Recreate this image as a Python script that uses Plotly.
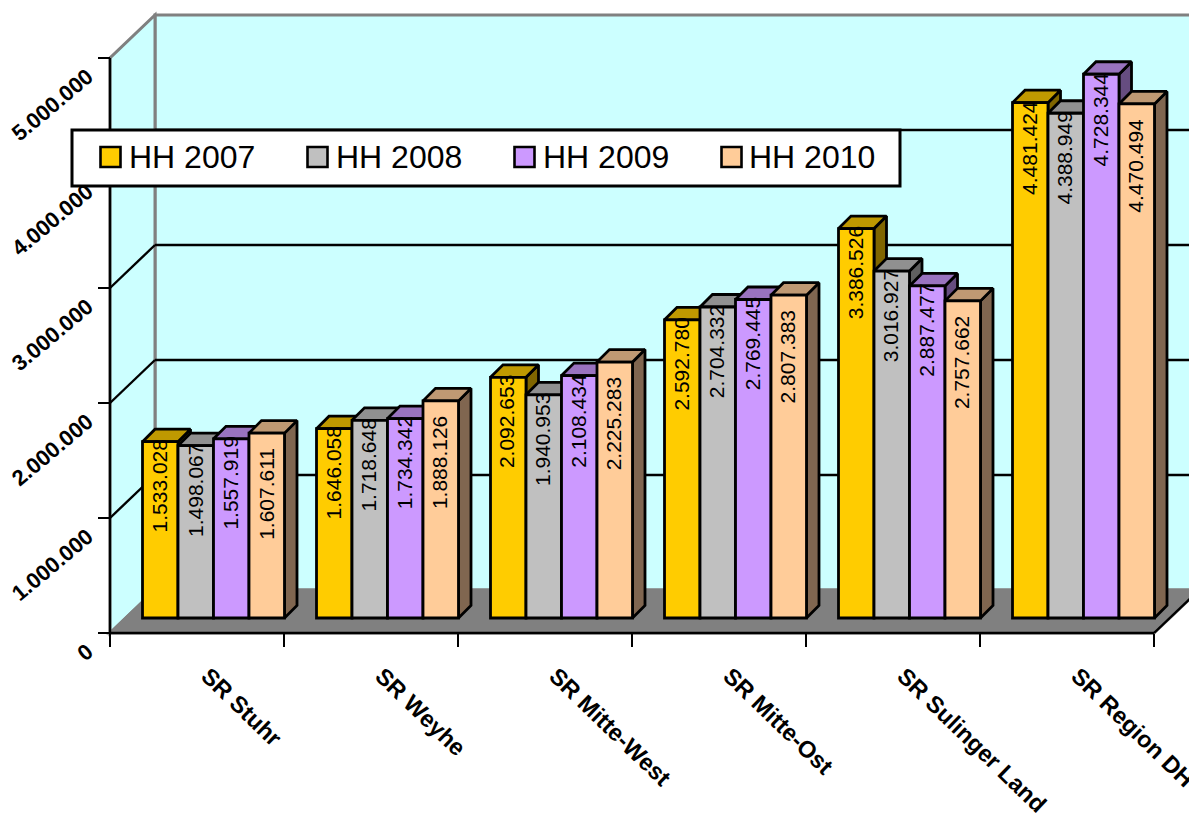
import plotly.graph_objects as go

# Budget figures per service region and year
categories = ["SR Stuhr", "SR Weyhe", "SR Mitte-West", "SR Mitte-Ost", "SR Sulinger Land", "SR Region DH"]
hh_2007 = [1533028, 1646058, 2092653, 2592780, 3386526, 4481424]
hh_2008 = [1498067, 1718648, 1940953, 2704332, 3016927, 4388949]
hh_2009 = [1557919, 1734342, 2108434, 2769445, 2887477, 4728344]
hh_2010 = [1607611, 1888126, 2225283, 2807383, 2757662, 4470494]
series_names = ["HH 2007", "HH 2008", "HH 2009", "HH 2010"]
value_ticks = [0, 1000000, 2000000, 3000000, 4000000, 5000000]
value_tick_labels = ["0", "1.000.000", "2.000.000", "3.000.000", "4.000.000", "5.000.000"]

series_values = [hh_2007, hh_2008, hh_2009, hh_2010]
front_colors = ["#FFCC00", "#C0C0C0", "#CC99FF", "#FFCC99"]
top_colors = ["#BF9900", "#909090", "#9973BF", "#BF9973"]
side_colors = ["#806600", "#606060", "#664D80", "#806650"]

W, H = 1189, 819
X0_PX, Y0_PX = 110, 633
CAT_PX = 174.0
PX_PER_VALUE = 115.0 / 1e6
BAR_LINE = 2.8
GRID_LINE = 2.4


def dx(px):
    return px / CAT_PX


def dy(px):
    return px / PX_PER_VALUE


# Oblique projection offsets, expressed in axis units
WALL_DX, WALL_DY = dx(45), dy(43)
BAR_DX, BAR_DY = dx(12.5), dy(12.5)
BAR_BASE = dy(15)
BAR_START = dx(32.5)
BAR_W = dx(35.5)
Y_TOP = value_ticks[-1]
N = len(categories)

fig = go.Figure()

# Extruded faces of the columns, painted left to right so nearer ones overlap
for s, vals in enumerate(series_values):
    side_x, side_y, top_x, top_y = [], [], [], []
    for c, v in enumerate(vals):
        left = c + BAR_START + s * BAR_W
        right = left + BAR_W
        t = BAR_BASE + v
        side_x += [right, right + BAR_DX, right + BAR_DX, right, right, None]
        side_y += [BAR_BASE, BAR_BASE + BAR_DY, t + BAR_DY, t, BAR_BASE, None]
        top_x += [left, left + BAR_DX, right + BAR_DX, right, left, None]
        top_y += [t, t + BAR_DY, t + BAR_DY, t, t, None]
    for xs, ys, col in ((side_x, side_y, side_colors[s]), (top_x, top_y, top_colors[s])):
        fig.add_trace(go.Scatter(
            x=xs, y=ys, mode="lines", fill="toself", fillcolor=col,
            line=dict(color="black", width=BAR_LINE), showlegend=False, hoverinfo="skip",
        ))

# Front faces live on an overlaying subplot so they cover every extruded face
for s, vals in enumerate(series_values):
    fig.add_trace(go.Bar(
        x=[c + BAR_START + (s + 0.5) * BAR_W for c in range(N)],
        y=vals, base=BAR_BASE, width=BAR_W, name=series_names[s],
        marker=dict(color=front_colors[s], line=dict(color="black", width=BAR_LINE)),
        xaxis="x2", yaxis="y2", showlegend=False,
    ))

shapes = []
GRAY = "#808080"


def polygon(points, fill, line_color=None, line_width=3, layer="below"):
    path = "M" + " L".join(f"{x},{y}" for x, y in points) + " Z"
    shapes.append(dict(type="path", path=path, xref="x", yref="y", fillcolor=fill, layer=layer,
                       line=dict(color=line_color or fill, width=line_width)))


def segment(x0, y0, x1, y1, color, width=GRID_LINE):
    shapes.append(dict(type="line", x0=x0, y0=y0, x1=x1, y1=y1, xref="x", yref="y", layer="below",
                       line=dict(color=color, width=width)))


# Back wall, side wall and floor of the 3D box
polygon([(WALL_DX, WALL_DY), (WALL_DX, Y_TOP + WALL_DY), (N + WALL_DX, Y_TOP + WALL_DY), (N + WALL_DX, WALL_DY)],
        "#CCFFFF", GRAY)
polygon([(0, 0), (0, Y_TOP), (WALL_DX, Y_TOP + WALL_DY), (WALL_DX, WALL_DY)], "#CCFFFF", GRAY)
polygon([(0, 0), (WALL_DX, WALL_DY), (N + WALL_DX, WALL_DY), (N, 0)], GRAY, GRAY)

# Gridlines wrap from the side wall on to the back wall
for v in value_ticks[1:-1]:
    segment(0, v, WALL_DX, v + WALL_DY, "black")
    segment(WALL_DX, v + WALL_DY, N + WALL_DX, v + WALL_DY, "black")

# Axis lines
segment(0, 0, 0, Y_TOP, "black")
segment(0, 0, N, 0, "black")
segment(N, 0, N + WALL_DX, WALL_DY, "black")

# Value labels inside the columns
annotations = []
label_shift = [4, 4, 4, -13]
for s, vals in enumerate(series_values):
    for c, v in enumerate(vals):
        annotations.append(dict(
            x=c + BAR_START + (s + 0.5) * BAR_W, y=BAR_BASE + v, xref="x", yref="y",
            text=f"{v:,}".replace(",", "."), showarrow=False, textangle=-90,
            xanchor="center", yanchor="top", yshift=label_shift[s], xshift=-1,
            font=dict(family="Liberation Sans", size=21, color="black"),
        ))


def px(x):
    return x / W


def py(y):
    return (H - y) / H


# Legend panel
shapes.append(dict(type="rect", xref="paper", yref="paper", layer="above",
                   x0=px(72), x1=px(900), y0=py(186), y1=py(130),
                   fillcolor="white", line=dict(color="black", width=3)))
for s, name in enumerate(series_names):
    sx = 100.5 + 207 * s
    shapes.append(dict(type="rect", xref="paper", yref="paper", layer="above",
                       x0=px(sx), x1=px(sx + 20), y0=py(167), y1=py(147),
                       fillcolor=front_colors[s], line=dict(color="black", width=2.6)))
    annotations.append(dict(
        x=px(sx + 29), y=py(157), xref="paper", yref="paper", text=name, showarrow=False,
        xanchor="left", yanchor="middle", xshift=-3,
        font=dict(family="Liberation Sans", size=32, color="black"),
    ))

x_range = [-X0_PX / CAT_PX, (W - X0_PX) / CAT_PX]
y_range = [-(H - Y0_PX) / PX_PER_VALUE, Y0_PX / PX_PER_VALUE]

fig.update_layout(
    width=W, height=H, margin=dict(l=0, r=0, t=0, b=0, autoexpand=False), autosize=False,
    paper_bgcolor="white", plot_bgcolor="white", barmode="overlay",
    shapes=shapes, annotations=annotations, showlegend=False,
    xaxis=dict(
        domain=[0, 1], range=x_range, anchor="free", position=(H - Y0_PX) / H,
        showgrid=False, zeroline=False, showline=False, automargin=False,
        tickmode="array", tickvals=[c + 0.5 for c in range(N)], ticktext=categories,
        ticks="outside", ticklen=19, tickcolor="rgba(0,0,0,0)", tickangle=44,
        ticklabelshift=11, ticklabeloverflow="allow",
        tickfont=dict(family="Liberation Sans", size=23.5, color="black", weight="bold"),
        minor=dict(tickmode="array", tickvals=list(range(N + 1)), ticks="outside",
                   ticklen=13, tickwidth=2.4, tickcolor="black", showgrid=False),
    ),
    yaxis=dict(
        domain=[0, 1], range=y_range, anchor="free", position=X0_PX / W,
        showgrid=False, zeroline=False, showline=False, automargin=False,
        tickmode="array", tickvals=value_ticks, ticktext=value_tick_labels,
        ticks="outside", ticklen=12, tickwidth=2.4, tickcolor="black", tickangle=-40,
        ticklabelshift=16, ticklabelstandoff=6, ticklabeloverflow="allow",
        tickfont=dict(family="Liberation Sans", size=22, color="black", weight="bold"),
    ),
    xaxis2=dict(overlaying="x", matches="x", visible=False, domain=[0, 1]),
    yaxis2=dict(overlaying="y", matches="y", visible=False, domain=[0, 1]),
)

fig.write_html("out.html", config={"displayModeBar": False})
